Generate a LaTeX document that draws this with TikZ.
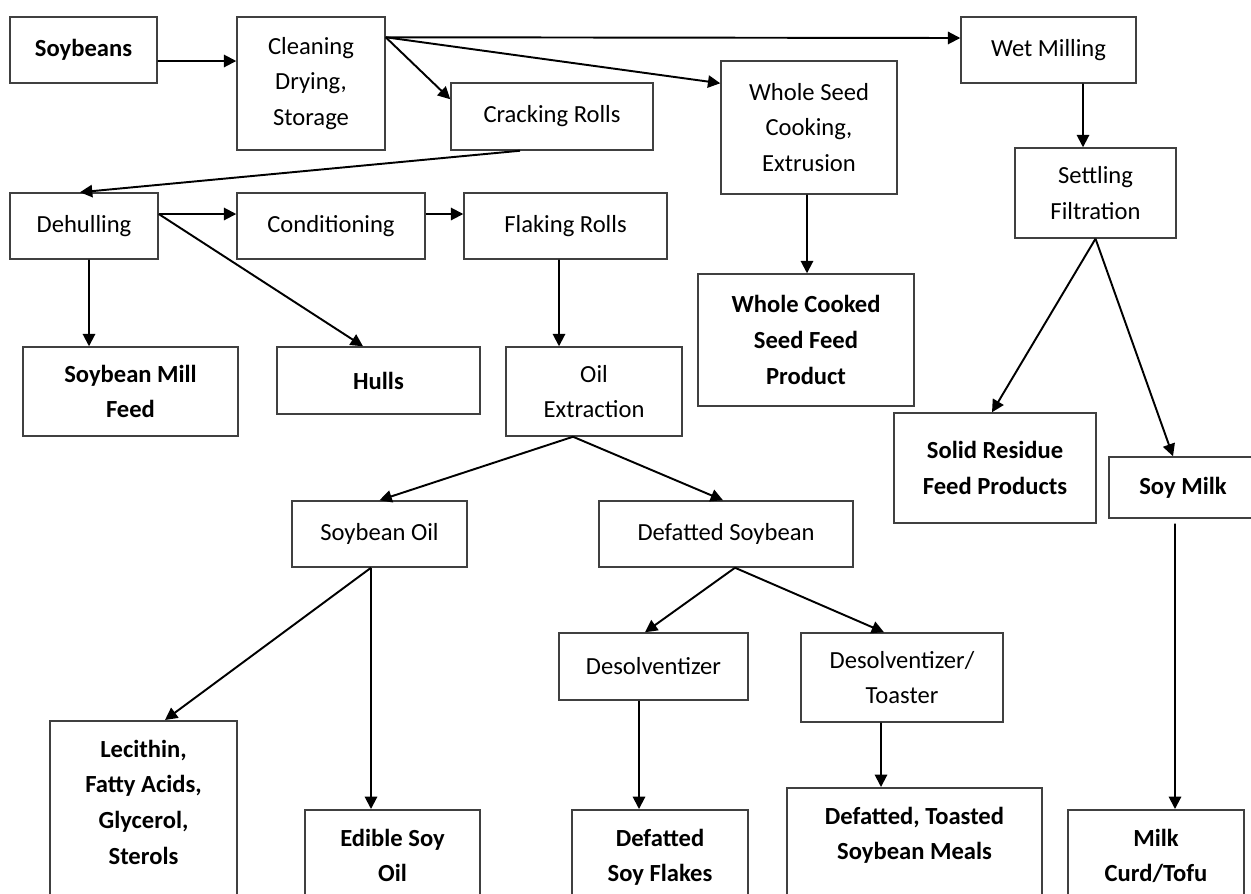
\documentclass[tikz,border=0pt]{standalone}
\usepackage{fontspec}
\setmainfont{Carlito}
\usepackage{tikz}
\usetikzlibrary{arrows.meta}
\tikzstyle{box}=[draw=black!75, line width=0.85pt, fill=white, align=center, inner sep=2pt, font=\fontsize{14}{20.4}\selectfont]
\tikzstyle{prodbox}=[box, font=\fontsize{14}{20.4}\selectfont\bfseries]
\tikzstyle{endbox}=[prodbox, anchor=north, text depth=4cm, inner ysep=0.38cm]
\tikzstyle{flow}=[draw=black, line width=1.1pt, -{Triangle[length=7pt,width=7pt]}]

\begin{document}
\begin{tikzpicture}[x=0.02cm, y=-0.02cm]
			\useasboundingbox (0,0) rectangle (1251,893);
			% top rows
			\node[prodbox, minimum width=2.94cm, minimum height=1.32cm] (soy) at (83.5,50) {Soybeans};
			\node[box, minimum width=2.96cm, minimum height=2.66cm] (clean) at (311,83.5) {Cleaning\\Drying,\\Storage};
			\node[box, minimum width=4.04cm, minimum height=1.34cm] (crack) at (552,116.5) {Cracking Rolls};
			\node[box, minimum width=3.52cm, minimum height=2.66cm] (whole) at (809,127.5) {Whole Seed\\Cooking,\\Extrusion};
			\node[box, minimum width=3.50cm, minimum height=1.32cm] (wet) at (1048.5,50) {Wet Milling};
			\node[box, minimum width=3.22cm, minimum height=1.80cm] (settle) at (1095.5,193) {Settling\\Filtration};
			\node[box, minimum width=2.96cm, minimum height=1.32cm] (dehull) at (84,226) {Dehulling};
			\node[box, minimum width=3.76cm, minimum height=1.32cm] (cond) at (331,226) {Conditioning};
			\node[box, minimum width=4.06cm, minimum height=1.32cm] (flake) at (565.5,226) {Flaking Rolls};
			% middle rows
			\node[prodbox, minimum width=4.30cm, minimum height=1.78cm] (millfeed) at (130.5,391.5) {Soybean Mill\\Feed};
			\node[prodbox, minimum width=4.06cm, minimum height=1.34cm] (hulls) at (378.5,380.5) {Hulls};
			\node[box, minimum width=3.52cm, minimum height=1.78cm] (oilx) at (594,391.5) {Oil\\Extraction};
			\node[prodbox, minimum width=4.32cm, minimum height=2.64cm] (cooked) at (806,340) {Whole Cooked\\Seed Feed\\Product};
			\node[prodbox, minimum width=4.04cm, minimum height=2.20cm] (residue) at (995,468) {Solid Residue\\Feed Products};
			\node[prodbox, minimum width=2.96cm, minimum height=1.22cm] (soymilk) at (1183,487.5) {Soy Milk};
			\node[box, minimum width=3.50cm, minimum height=1.32cm] (soyoil) at (379.5,534) {Soybean Oil};
			\node[box, minimum width=5.08cm, minimum height=1.32cm] (defat) at (726,534) {Defatted Soybean};
			\node[box, minimum width=3.78cm, minimum height=1.34cm] (desolv) at (653.5,666.5) {Desolventizer};
			\node[box, minimum width=4.04cm, minimum height=1.78cm] (toaster) at (902,677.5) {Desolventizer/\\Toaster};
			% end products
			\node[endbox, minimum width=3.74cm] (lecithin) at (143.5,720) {Lecithin,\\Fatty Acids,\\Glycerol,\\Sterols};
			\node[endbox, minimum width=3.50cm] (edible) at (392.5,809) {Edible Soy\\Oil};
			\node[endbox, minimum width=3.52cm] (flakes) at (660,809) {Defatted\\Soy Flakes};
			\node[endbox, minimum width=5.10cm] (meals) at (914.5,787) {Defatted, Toasted\\Soybean Meals};
			\node[endbox, minimum width=3.52cm] (curd) at (1156,809) {Milk\\Curd/Tofu};
			% arrows
			\path[flow] ([yshift=-0.22cm]soy.east) -- ([yshift=0.45cm]clean.west);
			\path[flow] ([yshift=-0.42cm]clean.north east) -- ([yshift=0.24cm]wet.west);
			\path[flow] ([yshift=-0.42cm]clean.north east) -- ([yshift=-0.46cm]whole.north west);
			\path[flow] ([yshift=-0.42cm]clean.north east) -- ([yshift=-0.34cm]crack.north west);
			\path[flow] ([xshift=-0.64cm]crack.south) -- ([xshift=-0.08cm]dehull.north);
			\path[flow] ([yshift=0.24cm]dehull.east) -- ([yshift=0.24cm]cond.west);
			\path[flow] ([yshift=0.24cm]cond.east) -- ([yshift=0.24cm]flake.west);
			\path[flow] ([yshift=0.24cm]dehull.east) -- ([xshift=-0.31cm]hulls.north);
			\path[flow] ([xshift=0.10cm]dehull.south) -- ([xshift=-0.83cm]millfeed.north);
			\path[flow] ([xshift=-0.13cm]flake.south) -- ([xshift=-0.70cm]oilx.north);
			\path[flow] ([xshift=-0.04cm]whole.south) -- ([xshift=0.02cm]cooked.north);
			\path[flow] ([xshift=0.69cm]wet.south) -- ([xshift=-0.25cm]settle.north);
			\path[flow] (settle.south) -- ([xshift=-0.06cm]residue.north);
			\path[flow] (settle.south) -- ([xshift=-0.20cm]soymilk.north);
			\path[flow] ([xshift=-0.42cm]oilx.south) -- (soyoil.north);
			\path[flow] ([xshift=-0.42cm]oilx.south) -- ([xshift=-0.06cm]defat.north);
			\path[flow] ([xshift=-0.17cm]soyoil.south) -- ([xshift=0.43cm]lecithin.north);
			\path[flow] ([xshift=-0.17cm]soyoil.south) -- ([xshift=-0.43cm]edible.north);
			\path[flow] ([xshift=0.18cm]defat.south) -- ([xshift=-0.17cm]desolv.north);
			\path[flow] ([xshift=0.18cm]defat.south) -- ([xshift=-0.36cm]toaster.north);
			\path[flow] ([xshift=-0.29cm]desolv.south) -- ([xshift=-0.42cm]flakes.north);
			\path[flow] ([xshift=-0.42cm]toaster.south) -- ([xshift=-0.67cm]meals.north);
			\path[flow] ([xshift=-0.16cm,yshift=-0.10cm]soymilk.south) -- ([xshift=0.38cm]curd.north);
		\end{tikzpicture}
\end{document}
